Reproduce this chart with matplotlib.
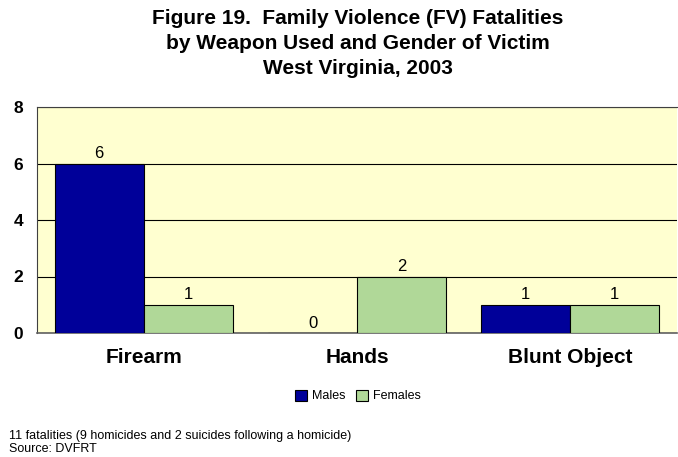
import matplotlib
matplotlib.use("Agg")
import matplotlib.pyplot as plt
import numpy as np

plt.rcParams['font.family'] = ['Liberation Sans', 'DejaVu Sans']

categories = ["Firearm", "Hands", "Blunt Object"]
males = [6, 0, 1]
females = [1, 2, 1]
title_lines = ["Figure 19.  Family Violence (FV) Fatalities",
               "by Weapon Used and Gender of Victim",
               "West Virginia, 2003"]
notes = ["11 fatalities (9 homicides and 2 suicides following a homicide)",
         "Source: DVFRT"]

W, H = 678, 457
fig = plt.figure(figsize=(W / 100, H / 100), dpi=100)
ax = fig.add_axes([37 / W, 1 - 333 / H, (677 - 37) / W, (333 - 107) / H])
ax.set_facecolor("#ffffd0")

x = np.arange(len(categories))
w = 0.417
b1 = ax.bar(x - w / 2, males, w, color="#000099", edgecolor="black", linewidth=0.8, label="Males", zorder=3)
b2 = ax.bar(x + w / 2, females, w, color="#b0d898", edgecolor="black", linewidth=0.8, label="Females", zorder=3)
for bars in (b1, b2):
    for r in bars:
        ax.annotate(str(int(r.get_height())), (r.get_x() + r.get_width() / 2, r.get_height()),
                    xytext=(0, 3.8), textcoords="offset points",
                    ha="center", va="baseline", fontsize=12, zorder=4)

ax.set_xlim(-0.5, 2.5)
ax.set_ylim(0, 8)
ax.set_yticks([0, 2, 4, 6, 8])
ax.yaxis.grid(True, color="black", linewidth=0.8, zorder=0)
ax.tick_params(axis="y", length=0, labelsize=12.5, pad=10)
for t in ax.get_yticklabels():
    t.set_fontweight("bold")
ax.set_xticks(x)
ax.set_xticklabels(categories, fontsize=15, fontweight="bold")
ax.tick_params(axis="x", length=0, pad=11)
ax.spines["right"].set_visible(False)
ax.spines["top"].set_color("#404040")
ax.spines["left"].set_color("#404040")
ax.spines["bottom"].set_color("#606060")
ax.spines["bottom"].set_linewidth(1.2)

# title, one line at a time
for i, line in enumerate(title_lines):
    fig.text(358 / W, 1 - (24 + 25 * i) / H, line, ha="center", va="baseline",
             fontsize=15, fontweight="bold")

fig.legend(loc="center", bbox_to_anchor=(358 / W, 1 - 396 / H), ncol=2, frameon=False,
           fontsize=9, handlelength=1.0, handleheight=1.0, handletextpad=0.4, columnspacing=0.8)

for i, line in enumerate(notes):
    fig.text(9 / W, 1 - (439 + 13 * i) / H, line, fontsize=9, va="baseline")

fig.savefig("out.png", dpi=100)
